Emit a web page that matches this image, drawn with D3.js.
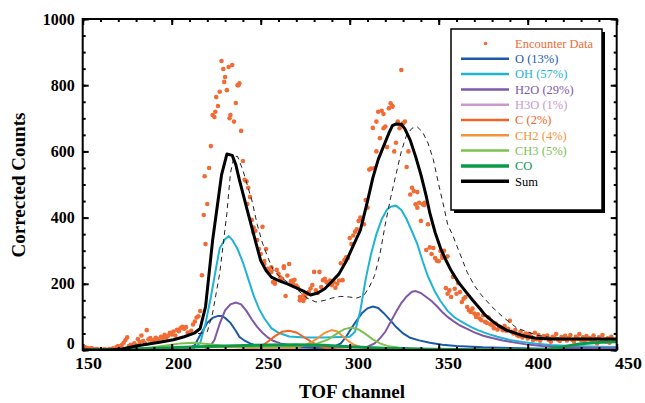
<!DOCTYPE html>
<html>
<head>
<meta charset="utf-8">
<script src="https://cdn.jsdelivr.net/npm/d3@7"></script>
<style>
body { margin: 0; background: #fff; }
svg { display: block; }
.axis line { stroke: #000; stroke-width: 2; }
.axis text { font-family: "Liberation Serif", "Times New Roman", serif; font-weight: bold; font-size: 16px; fill: #000; }
.title { font-family: "Liberation Serif", "Times New Roman", serif; font-weight: bold; font-size: 19px; }
.legend text { font-family: "Liberation Serif", "Times New Roman", serif; font-size: 12.5px; }
</style>
</head>
<body>
<svg id="chart" width="645" height="403"></svg>
<script>
// encounter data, one value per TOF channel starting at channel 150
var encounterStart = 150;
var encounterCounts = [
	13, 9, 7, 5, 4, 6, 2, 1, 3, 0,
	1, 0, 2, 1, 0, 3, 2, 5, 3, 9,
	12, 6, 15, 22, 30, 38, 12, 16, 10, 20,
	14, 33, 24, 44, 27, 20, 60, 32, 36, 25,
	30, 37, 33, 27, 40, 36, 46, 38, 43, 52,
	47, 56, 44, 61, 57, 66, 70, 64, 69, 53,
	49, 58, 77, 86, 98, 102, 118, 226, 408, 320,
	441, 550, 616, 710, 704, 764, 737, 780, 873, 849,
	825, 785, 855, 710, 861, 690, 746, 800, 806, 662,
	571, 514, 510, 490, 462, 393, 370, 360, 332, 305,
	290, 372, 269, 305, 245, 238, 250, 205, 210, 242,
	230, 220, 215, 248, 163, 225, 260, 208, 202, 212,
	195, 188, 160, 152, 148, 158, 170, 175, 186, 196,
	236, 180, 172, 236, 190, 211, 215, 205, 198, 210,
	196, 205, 188, 200, 210, 262, 211, 272, 280, 278,
	338, 320, 346, 357, 365, 390, 400, 392, 380, 453,
	430, 545, 548, 671, 550, 600, 720, 640, 723, 670,
	675, 613, 730, 745, 735, 600, 626, 690, 670, 846,
	685, 690, 553, 600, 470, 490, 480, 440, 430, 445,
	390, 440, 438, 302, 380, 310, 290, 308, 278, 270,
	268, 299, 287, 300, 187, 170, 180, 160, 221, 185,
	170, 202, 175, 145, 155, 160, 130, 120, 115, 125,
	110, 100, 108, 95, 90, 105, 85, 82, 98, 78,
	75, 66, 80, 62, 70, 68, 60, 72, 58, 64,
	88, 55, 50, 60, 45, 42, 55, 38, 46, 50,
	35, 48, 40, 30, 52, 33, 45, 28, 36, 42,
	38, 44, 30, 25, 40, 36, 48, 32, 27, 39,
	34, 43, 29, 37, 45, 31, 26, 40, 35, 48,
	30, 38, 24, 42, 33, 36, 27, 44, 32, 20,
	38, 29, 45, 31, 25, 35, 22, 40, 30
];
// extra points that share a channel with another point
var encounterExtra = [[218.5, 525], [224.5, 720], [229.5, 810], [232.5, 700], [237.5, 800],
	[242.5, 441], [246, 355], [252, 260], [256, 236], [258, 200], [263, 253], [268, 210],
	[272, 150], [274, 165], [315, 690], [319, 713], [324, 737], [329, 680], [338, 477],
	[342, 445], [352, 279], [355, 283]];

// fitted components [channel, counts]
var oCurve = [[150,0],[205,0],[210,5],[213,15],[216,45],[220,82],[223,97],[226,103],[228,103],[230,97],[233,82],[236,58],[238,40],[241,28],[244,20],[248,12],[252,7],[260,6],[280,6],[290,7],[295,20],[298,40],[301,66],[304,90],[307,112],[310,126],[313,131],[316,127],[319,112],[322,95],[326,70],[330,50],[334,37],[339,29],[345,22],[352,16],[360,12],[375,8],[390,6],[410,4],[450,3]];
var ohCurve = [[150,0],[205,0],[212,3],[216,21],[219,80],[222,160],[225,250],[227,308],[230,335],[232,344],[234,333],[237,305],[240,265],[243,215],[246,165],[249,125],[252,96],[256,66],[260,52],[266,41],[275,38],[285,38],[295,39],[300,40],[303,55],[306,120],[309,215],[312,290],[315,350],[318,395],[321,425],[323,433],[326,436],[329,423],[332,395],[335,358],[338,320],[341,268],[344,222],[348,175],[351,148],[355,118],[359,98],[363,85],[368,70],[372,60],[378,48],[383,40],[390,30],[397,24],[405,19],[413,15],[425,12],[440,10],[450,9]];
var h2oCurve = [[150,0],[218,0],[221,6],[224,30],[227,80],[230,120],[233,138],[236,143],[239,138],[242,118],[245,92],[248,70],[251,52],[254,38],[257,28],[261,20],[266,15],[275,12],[290,10],[305,9],[310,10],[314,20],[317,35],[320,55],[323,85],[326,115],[329,142],[332,162],[335,176],[337,178],[340,172],[343,160],[346,148],[349,132],[352,115],[355,100],[358,88],[362,74],[366,64],[370,53],[375,43],[380,36],[386,29],[392,23],[399,17],[408,12],[418,9],[430,7],[450,5]];
var h3oCurve = [[150,0],[235,0],[245,3],[255,5],[265,4],[280,1],[300,0],[450,0]];
var cCurve = [[150,0],[240,0],[245,3],[250,10],[254,25],[258,42],[262,55],[266,58],[270,53],[274,40],[278,26],[282,14],[286,7],[292,3],[300,1],[450,0]];
var ch2Curve = [[150,0],[185,2],[200,7],[215,9],[235,8],[255,6],[265,5],[270,7],[274,13],[278,22],[282,36],[286,52],[290,60],[293,56],[296,42],[299,28],[302,17],[306,9],[311,4],[318,1],[330,0],[450,0]];
var ch3Curve = [[150,0],[170,1],[185,5],[195,12],[205,20],[212,22],[220,18],[230,12],[245,9],[260,10],[272,13],[282,20],[288,32],[293,50],[297,63],[301,68],[305,62],[309,48],[313,32],[317,20],[322,11],[330,5],[345,2],[370,0],[450,0]];
var coCurve = [[150,0],[175,2],[195,6],[215,10],[235,13],[255,15],[270,16],[285,14],[300,10],[320,5],[345,2],[380,1],[405,1],[412,3],[418,8],[424,14],[430,19],[437,22],[444,24],[450,25]];
var sumCurve = [[150,0],[165,0],[172,3],[180,12],[187,18],[194,24],[201,31],[207,40],[213,52],[216,65],[219,130],[223,332],[226,450],[228,529],[231,592],[234,588],[236,560],[238,515],[242,432],[246,350],[250,270],[253,240],[256,220],[260,210],[265,200],[270,188],[274,178],[278,166],[282,172],[286,185],[290,207],[294,230],[298,268],[302,315],[306,362],[310,450],[313,520],[316,575],[319,615],[322,655],[324,678],[326,683],[329,682],[331,668],[334,634],[337,585],[340,530],[343,465],[345,414],[348,355],[351,308],[354,272],[357,240],[361,205],[365,178],[369,151],[373,126],[376,106],[380,88],[383,76],[388,60],[393,51],[398,42],[404,36],[412,33],[430,33],[450,33]];
// dashed curve (not in legend)
var shiftedCurve = [[150,0],[165,0],[172,3],[180,12],[187,18],[194,24],[201,31],[207,40],[212,48],[216,50],[220,55],[223,112],[227,232],[231,413],[233,534],[235,585],[237,585],[240,543],[245,453],[248,380],[251,323],[254,280],[257,242],[261,220],[266,202],[271,180],[276,157],[281,145],[286,150],[290,157],[295,162],[300,160],[304,157],[308,165],[311,190],[314,225],[317,290],[320,380],[323,460],[326,530],[329,600],[332,650],[335,670],[338,674],[341,658],[344,625],[347,575],[350,500],[353,430],[355,380],[358,345],[362,290],[366,235],[370,195],[374,166],[380,130],[386,100],[394,66],[405,45],[415,36],[430,33],[450,33]];

var xTicks = [150, 200, 250, 300, 350, 400, 450];
var yTicks = [0, 200, 400, 600, 800, 1000];

var svg = d3.select('#chart');
var plot = {left: 82.7, right: 616.7, top: 19, bottom: 350};

var x = d3.scaleLinear().domain([150, 450]).range([plot.left, plot.right]);
var y = d3.scaleLinear().domain([0, 1000]).range([plot.bottom, plot.top]);
// tick labels in the original drift a bit to the right
var xLabel = d3.scaleLinear().domain([150, 450]).range([88, 628]);

svg.append('clipPath').attr('id', 'clip')
	.append('rect')
	.attr('x', plot.left).attr('y', plot.top)
	.attr('width', plot.right - plot.left).attr('height', plot.bottom - plot.top);

var series = [
	{name: 'O (13%)', color: '#1c5aa8', data: oCurve, width: 2},
	{name: 'OH (57%)', color: '#1fb3d4', data: ohCurve, width: 2},
	{name: 'H2O (29%)', color: '#7f58a8', data: h2oCurve, width: 2},
	{name: 'H3O (1%)', color: '#c79bcb', data: h3oCurve, width: 2},
	{name: 'C (2%)', color: '#f26324', data: cCurve, width: 2},
	{name: 'CH2 (4%)', color: '#f6923b', data: ch2Curve, width: 2},
	{name: 'CH3 (5%)', color: '#7dc04f', data: ch3Curve, width: 2},
	{name: 'CO', color: '#0a9b4a', data: coCurve, width: 3},
	{name: 'Sum', color: '#000', data: sumCurve, width: 3}
];
var dotColor = '#f26b35';

var line = d3.line()
	.x(function(d) { return x(d[0]); })
	.y(function(d) { return y(d[1]); });

var layer = svg.append('g').attr('clip-path', 'url(#clip)');

//data points
var points = encounterCounts.map(function(v, i) { return [encounterStart + i, v]; }).concat(encounterExtra);
layer.selectAll('.dot').data(points).enter().append('circle')
	.attr('class', 'dot')
	.attr('cx', function(d) { return x(d[0]); })
	.attr('cy', function(d) { return y(d[1]); })
	.attr('r', 2.3)
	.style('fill', dotColor);

//component curves
layer.selectAll('.fit').data(series.slice(0, 8)).enter().append('path')
	.attr('class', 'fit')
	.attr('d', function(d) { return line(d.data); })
	.style('fill', 'none')
	.style('stroke', function(d) { return d.color; })
	.style('stroke-width', function(d) { return d.width; });

layer.append('path')
	.attr('d', line(shiftedCurve))
	.style('fill', 'none')
	.style('stroke', '#222')
	.style('stroke-width', 1)
	.style('stroke-dasharray', '5,4');

layer.append('path')
	.attr('d', line(sumCurve))
	.style('fill', 'none')
	.style('stroke', '#000')
	.style('stroke-width', 3)
	.style('stroke-linejoin', 'round');

//axes, ticks point inward on all four sides
function addAxis(axis, tx, ty, ticks, size, labels) {
	var g = svg.append('g')
		.attr('class', 'axis')
		.attr('transform', 'translate(' + tx + ',' + ty + ')')
		.call(axis.tickValues(ticks).tickSize(size).tickPadding(8)
			.tickFormat(labels ? d3.format('d') : ''));
	g.select('.domain').remove();
	return g;
}
addAxis(d3.axisBottom(x), 0, plot.bottom, d3.range(150, 451, 10), -3, false);
addAxis(d3.axisTop(x), 0, plot.top, d3.range(150, 451, 10), -3, false);
addAxis(d3.axisTop(x), 0, plot.top, xTicks, -6, false);
addAxis(d3.axisLeft(y), plot.left, 0, d3.range(0, 1001, 50), -3, false);
addAxis(d3.axisRight(y), plot.right, 0, d3.range(0, 1001, 50), -3, false);
addAxis(d3.axisRight(y), plot.right, 0, yTicks, -6, false);

//bottom labels are a little wider in the original
var bottom = addAxis(d3.axisBottom(x), 0, plot.bottom, xTicks, -6, true);
bottom.selectAll('text')
	.attr('x', 0).attr('y', 8)
	.attr('transform', function(d) { return 'translate(' + (xLabel(d) - x(d)) + ',0) scale(1.12,1)'; });

var left = addAxis(d3.axisLeft(y), plot.left, 0, yTicks, -6, true);
left.selectAll('text').attr('y', function(d) { return d === 0 ? -7 : 0; });

svg.append('rect')
	.attr('x', plot.left).attr('y', plot.top)
	.attr('width', plot.right - plot.left).attr('height', plot.bottom - plot.top)
	.style('fill', 'none').style('stroke', '#000').style('stroke-width', 2);

//axis titles
svg.append('text').attr('class', 'title')
	.attr('x', 352).attr('y', 398)
	.attr('text-anchor', 'middle')
	.text('TOF channel');
svg.append('text').attr('class', 'title')
	.attr('transform', 'translate(25,185) rotate(-90)')
	.attr('text-anchor', 'middle')
	.text('Corrected Counts');

//legend with drop shadow
var legend = svg.append('g').attr('class', 'legend');
legend.append('rect')
	.attr('x', 454).attr('y', 32).attr('width', 151).attr('height', 181)
	.style('fill', '#000');
legend.append('rect')
	.attr('x', 451).attr('y', 29).attr('width', 151).attr('height', 181)
	.style('fill', '#fff').style('stroke', '#000').style('stroke-width', 1.5);

var legendItems = [{name: 'Encounter Data', color: dotColor, dot: true}].concat(series);
var rows = legend.selectAll('.row').data(legendItems).enter().append('g')
	.attr('class', 'row')
	.attr('transform', function(d, i) { return 'translate(0,' + (43.5 + i * 15.3) + ')'; });
rows.filter(function(d) { return d.dot; }).append('circle')
	.attr('cx', 485.5).attr('cy', 0).attr('r', 1.8)
	.style('fill', dotColor);
rows.filter(function(d) { return !d.dot; }).append('line')
	.attr('x1', 461).attr('x2', 509)
	.style('stroke', function(d) { return d.color; })
	.style('stroke-width', function(d) { return d.width + 0.5; });
rows.append('text')
	.attr('x', 515).attr('dy', '0.35em')
	.style('fill', function(d) { return d.color; })
	.text(function(d) { return d.name; });
</script>
</body>
</html>
